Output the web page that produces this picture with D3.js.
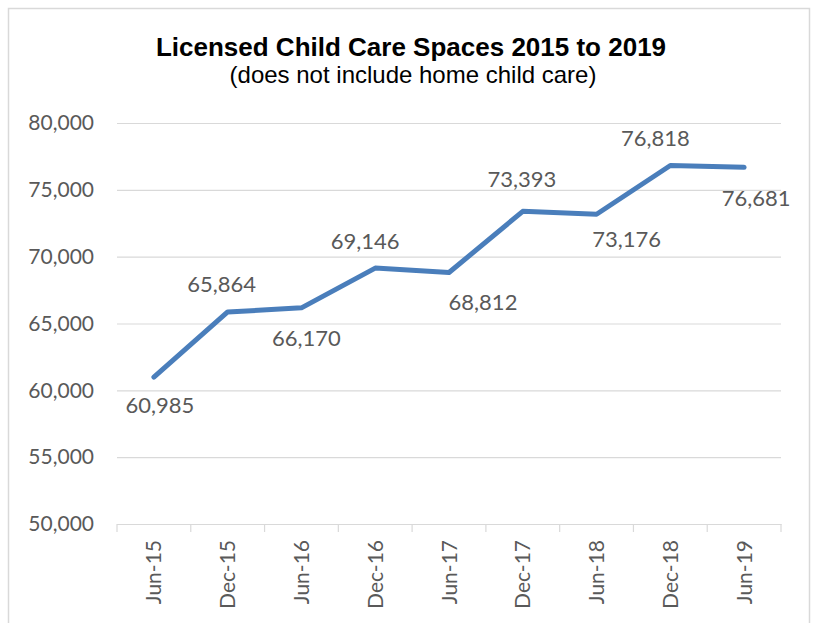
<!DOCTYPE html>
<html>
<head>
<meta charset="utf-8">
<script src="https://cdn.jsdelivr.net/npm/d3@7"></script>
<style>
  html, body { margin: 0; padding: 0; background: #fff; }
  svg { display: block; }
</style>
</head>
<body>
<svg id="chart" width="815" height="623"></svg>
<script>
// ---- Data ----
const categories = ["Jun-15", "Dec-15", "Jun-16", "Dec-16", "Jun-17", "Dec-17", "Jun-18", "Dec-18", "Jun-19"];
const spaces = [60985, 65864, 66170, 69146, 68812, 73393, 73176, 76818, 76681];
const yTicks = [50000, 55000, 60000, 65000, 70000, 75000, 80000];
const titleText = "Licensed Child Care Spaces 2015 to 2019";
const subtitleText = "(does not include home child care)";

// ---- Layout / style ----
const W = 815, H = 623;
const plot = { left: 117, right: 781, top: 123, bottom: 524 };
const textColor = "#595959";
const gridColor = "#d9d9d9";
const lineColor = "#4a7ebb";
const labelFont = "Lato, 'Open Sans', sans-serif";
// label placement relative to point [dx, dy]
const labelOffsets = [[6, 28], [-6, -28], [5, 30], [-10, -27], [34, 30], [-1, -32], [30, 25], [-15, -27], [12, 31]];

const svg = d3.select("#chart");

// chart border
svg.append("rect")
  .attr("x", 8.5).attr("y", 8.5)
  .attr("width", 801).attr("height", 640)
  .attr("fill", "#fff")
  .attr("stroke", "#d9d9d9")
  .attr("stroke-width", 1.5);

// titles
svg.append("text")
  .attr("x", 411).attr("y", 56)
  .attr("text-anchor", "middle")
  .attr("font-family", "'Liberation Sans', Arial, sans-serif")
  .attr("font-weight", "bold")
  .attr("font-size", 26)
  .attr("fill", "#000")
  .text(titleText);

svg.append("text")
  .attr("x", 413).attr("y", 83)
  .attr("text-anchor", "middle")
  .attr("font-family", "'Liberation Sans', Arial, sans-serif")
  .attr("font-size", 24)
  .attr("fill", "#000")
  .text(subtitleText);

// scales
const x = d3.scaleBand().domain(categories).range([plot.left, plot.right]).padding(0);
const y = d3.scaleLinear().domain([50000, 80000]).range([plot.bottom, plot.top]);
const cx = d => x(d) + x.bandwidth() / 2;

// gridlines + y labels
const yAxis = d3.axisLeft(y)
  .tickValues(yTicks)
  .tickSize(-(plot.right - plot.left))
  .tickPadding(23)
  .tickFormat(d3.format(","));

const gy = svg.append("g")
  .attr("transform", `translate(${plot.left},0)`)
  .call(yAxis);
gy.select(".domain").remove();
gy.selectAll(".tick line").attr("stroke", gridColor).attr("stroke-width", 1.2);
gy.selectAll(".tick text")
  .attr("fill", textColor)
  .attr("font-family", labelFont)
  .attr("font-size", 21);

// x axis labels
const xAxis = d3.axisBottom(x).tickSize(0).tickPadding(0);
const gx = svg.append("g")
  .attr("transform", `translate(0,${plot.bottom})`)
  .call(xAxis);
gx.select(".domain").attr("stroke", gridColor).attr("stroke-width", 1.2);
gx.selectAll(".tick text")
  .attr("fill", textColor)
  .attr("font-family", labelFont)
  .attr("font-size", 21)
  .attr("text-anchor", "end")
  .attr("transform", "translate(0,16) rotate(-90)")
  .attr("x", 0).attr("y", 0)
  .attr("dy", "0.36em");

// boundary ticks
const boundaries = categories.map(c => x(c)).concat([x(categories[categories.length - 1]) + x.bandwidth()]);
gx.selectAll(".btick").data(boundaries).enter().append("line")
  .attr("class", "btick")
  .attr("x1", d => d).attr("x2", d => d)
  .attr("y1", 0).attr("y2", 8)
  .attr("stroke", gridColor).attr("stroke-width", 1.2);

// line
const pts = categories.map((c, i) => ({ c, v: spaces[i], i }));
const line = d3.line().x(d => cx(d.c)).y(d => y(d.v));
svg.append("path")
  .datum(pts)
  .attr("d", line)
  .attr("fill", "none")
  .attr("stroke", lineColor)
  .attr("stroke-width", 5)
  .attr("stroke-linejoin", "round")
  .attr("stroke-linecap", "round");

// data labels
svg.selectAll(".dlabel").data(pts).enter().append("text")
  .attr("class", "dlabel")
  .attr("x", d => cx(d.c) + labelOffsets[d.i][0])
  .attr("y", d => y(d.v) + labelOffsets[d.i][1])
  .attr("dy", "0.36em")
  .attr("text-anchor", "middle")
  .attr("fill", textColor)
  .attr("font-family", labelFont)
  .attr("font-size", 22)
  .text(d => d3.format(",")(d.v));
</script>
</body>
</html>
